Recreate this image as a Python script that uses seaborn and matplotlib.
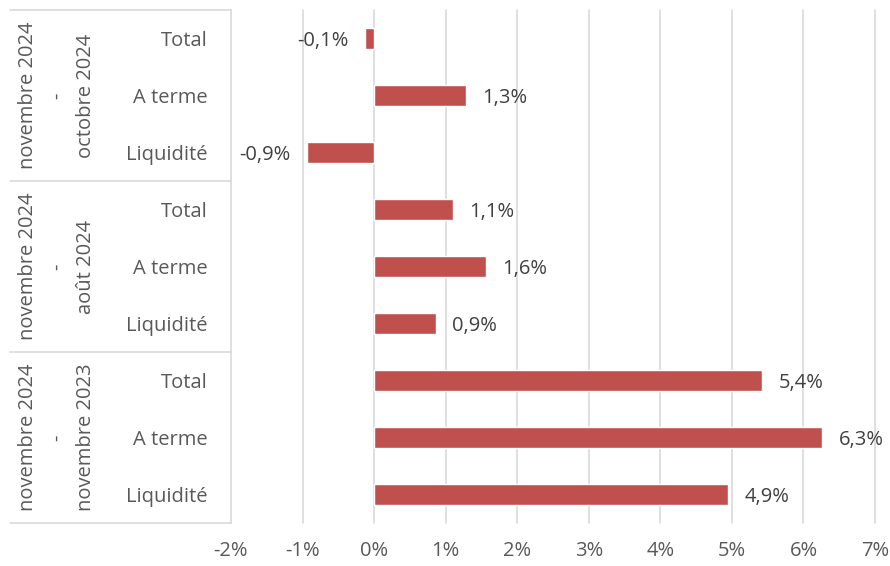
import matplotlib.pyplot as plt
import seaborn as sns
import numpy as np
import pandas as pd

# data
periods = ["novembre 2024\n-\noctobre 2024",
           "novembre 2024\n-\naoût 2024",
           "novembre 2024\n-\nnovembre 2023"]
categories = ["Total", "A terme", "Liquidité"]
oct_vals = [-0.13, 1.28, -0.94]
aug_vals = [1.10, 1.56, 0.86]
nov_vals = [5.42, 6.26, 4.94]
val_labels = ["-0,1%", "1,3%", "-0,9%",
              "1,1%", "1,6%", "0,9%",
              "5,4%", "6,3%", "4,9%"]

rows = []
for p, vals in zip(periods, [oct_vals, aug_vals, nov_vals]):
    for c, v in zip(categories, vals):
        rows.append({"period": p, "cat": c, "value": v})
df = pd.DataFrame(rows)
df["row"] = [f"{p}|{c}" for p, c in zip(df["period"], df["cat"])]

sns.set_theme(style="white")
plt.rcParams["font.family"] = ["Open Sans", "DejaVu Sans"]
txt = "#595959"
grid = "#D9D9D9"
fs = 14.5

fig = plt.figure(figsize=(8.9, 5.66), dpi=100)
ax = fig.add_axes([231 / 890, 1 - 523 / 566, (875 - 231) / 890, (523 - 10) / 566])

sns.barplot(data=df, x="value", y="row", orient="h", color="#C0504D",
            saturation=1, width=0.36, ax=ax, order=list(df["row"]))

ax.set_xlim(-2, 7)
ax.set_ylim(len(df) - 0.5, -0.5)
ax.set_xticks(np.arange(-2, 8, 1))
ax.set_xticklabels([f"{t}%" for t in range(-2, 8)], color=txt, fontsize=fs)
ax.set_yticks(range(len(df)))
ax.set_yticklabels(df["cat"], color=txt, fontsize=fs)
ax.tick_params(axis="x", length=0, pad=13)
ax.tick_params(axis="y", length=0, pad=17)
ax.set_xlabel("")
ax.set_ylabel("")
for t in range(-1, 8):
    ax.axvline(t, color=grid, lw=1.2, zorder=0, clip_on=False)
for s in ["top", "right", "bottom"]:
    ax.spines[s].set_visible(False)
ax.spines["left"].set_color(grid)
ax.spines["left"].set_linewidth(1.2)

labs = ax.bar_label(ax.containers[0], labels=val_labels, padding=12,
                    color="#404040", fontsize=fs)
for l in labs:
    l.set_va("center")
    x0, y0 = l.xyann
    l.xyann = (x0, -2)

# group labels and separators on the left
n = len(categories)
for i, p in enumerate(periods):
    yc = i * n + (n - 1) / 2
    ax.text(-0.27, yc, p, transform=ax.get_yaxis_transform(), rotation=90,
            ha="center", va="center", multialignment="center",
            color=txt, fontsize=fs, linespacing=1.6)
for b in [-0.5, 2.5, 5.5, 8.5]:
    ax.plot([-0.343, 0], [b, b], transform=ax.get_yaxis_transform(),
            color=grid, lw=1.2, clip_on=False)

fig.savefig("out.png", dpi=100)
